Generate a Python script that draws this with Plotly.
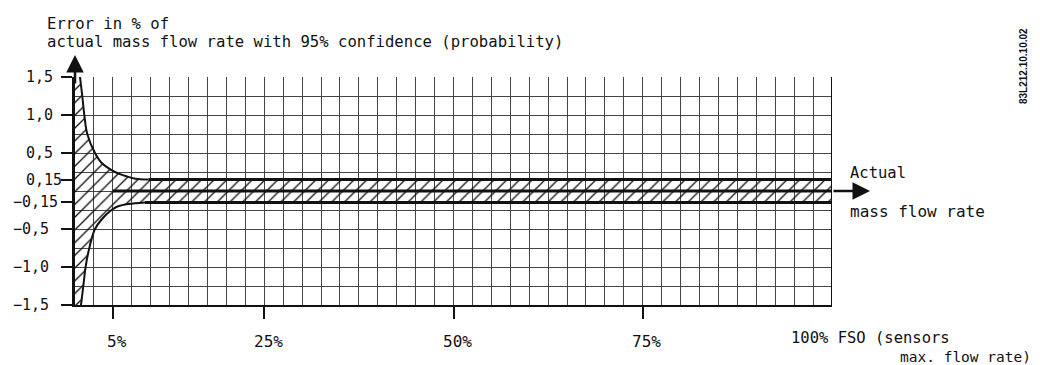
import plotly.graph_objects as go

# ---- data ----
x_tick_vals = [5, 25, 50, 75]
x_tick_text = ["5%", "25%", "50%", "75%"]
x_end_label = "100% FSO (sensors"
x_end_label2 = "max. flow rate)"

y_tick_vals = [1.5, 1.0, 0.5, 0.15, -0.15, -0.5, -1.0, -1.5]
y_tick_text = ["1,5", "1,0", "0,5", "0,15", "−0,15", "−0,5", "−1,0", "−1,5"]

upper_x = [0.66, 0.96, 1.23, 1.62, 2.64, 3.47, 5.28, 6.6, 7.97, 9.7]
upper_y = [1.5, 1.25, 1.0, 0.75, 0.5, 0.375, 0.25, 0.2, 0.16, 0.15]
lower_x = [0.79, 1.10, 1.40, 1.89, 2.64, 3.51, 4.83, 5.7, 7.04, 9.25]
lower_y = [-1.5, -1.25, -1.0, -0.75, -0.5, -0.375, -0.25, -0.2, -0.17, -0.15]

band_hi = 0.15
band_lo = -0.15
center_start = 5
x_max = 100

FONT = "DejaVu Sans Mono"
INK = "#111111"
GRID = "#444444"

W, H = 1040, 365
ML, MR, MT, MB = 75, 208, 77, 60
PW, PH = W - ML - MR, H - MT - MB


def px(xp):
    return (xp - ML) / PW


def py(yp):
    return (H - MB - yp) / PH


fig = go.Figure()

# hatched region (lower boundary, then upper with fill)
fig.add_trace(go.Scatter(
    x=[0] + lower_x + [x_max], y=[-1.5] + lower_y + [band_lo],
    mode="lines", line=dict(width=0, color="rgba(0,0,0,0)"),
    hoverinfo="skip", showlegend=False))
fig.add_trace(go.Scatter(
    x=[0] + upper_x + [x_max], y=[1.5] + upper_y + [band_hi],
    mode="lines", line=dict(width=0, color="rgba(0,0,0,0)"),
    fill="tonexty", fillcolor="rgba(0,0,0,0)",
    fillpattern=dict(shape="/", size=9, solidity=0.15,
                     fgcolor="#111111", bgcolor="rgba(0,0,0,0)",
                     fillmode="replace"),
    hoverinfo="skip", showlegend=False))

# curves
fig.add_trace(go.Scatter(x=upper_x, y=upper_y, mode="lines",
                         line=dict(color=INK, width=2, shape="spline"),
                         showlegend=False, hoverinfo="skip"))
fig.add_trace(go.Scatter(x=lower_x, y=lower_y, mode="lines",
                         line=dict(color=INK, width=2, shape="spline"),
                         showlegend=False, hoverinfo="skip"))
# thick band lines
fig.add_trace(go.Scatter(x=[upper_x[-1], x_max], y=[band_hi, band_hi], mode="lines",
                         line=dict(color=INK, width=3), showlegend=False, hoverinfo="skip"))
fig.add_trace(go.Scatter(x=[lower_x[-1], x_max], y=[band_lo, band_lo], mode="lines",
                         line=dict(color=INK, width=3), showlegend=False, hoverinfo="skip"))
fig.add_trace(go.Scatter(x=[center_start, x_max], y=[0, 0], mode="lines",
                         line=dict(color=INK, width=3), showlegend=False, hoverinfo="skip"))

fig.update_xaxes(
    range=[0, x_max], tickvals=x_tick_vals, ticks="outside", ticklen=12,
    tickwidth=2, tickcolor=INK, showticklabels=False,
    showgrid=True, gridcolor=GRID, gridwidth=1,
    minor=dict(dtick=2.5, tick0=0, showgrid=True, gridcolor=GRID, gridwidth=1, ticks=""),
    showline=True, linecolor=INK, linewidth=2, mirror=False, zeroline=False,
    fixedrange=True)
fig.update_yaxes(
    range=[-1.5, 1.5], tickvals=y_tick_vals, ticks="outside", ticklen=11,
    tickwidth=2, tickcolor=INK, showticklabels=False,
    showgrid=False,
    minor=dict(dtick=0.25, tick0=0, showgrid=True, gridcolor=GRID, gridwidth=1, ticks=""),
    showline=True, linecolor=INK, linewidth=2.5, mirror=False, zeroline=False,
    fixedrange=True)

ann = []
# y tick labels (aligned on the comma)
for v, t in zip(y_tick_vals, y_tick_text):
    neg = t.startswith("−")
    ann.append(dict(x=px(11 if neg else 24), y=v, xref="paper", yref="y",
                    text=t, showarrow=False, xanchor="left", yanchor="middle",
                    font=dict(family=FONT, size=15, color=INK)))
# x tick labels
for v, t in zip(x_tick_vals, x_tick_text):
    ann.append(dict(x=v, y=py(341), xref="x", yref="paper", xshift=4,
                    text=t, showarrow=False, xanchor="center", yanchor="middle",
                    font=dict(family=FONT, size=16, color=INK)))
ann.append(dict(x=px(789), y=py(338), xref="paper", yref="paper",
                text=x_end_label, showarrow=False, xanchor="left", yanchor="middle",
                font=dict(family=FONT, size=15.5, color=INK)))
ann.append(dict(x=px(898), y=py(356.5), xref="paper", yref="paper",
                text=x_end_label2, showarrow=False, xanchor="left", yanchor="middle",
                font=dict(family=FONT, size=14.5, color=INK)))
# y-axis title
ann.append(dict(x=px(45), y=py(24), xref="paper", yref="paper",
                text="Error in % of", showarrow=False, xanchor="left", yanchor="middle",
                font=dict(family=FONT, size=15.6, color=INK)))
ann.append(dict(x=px(45), y=py(42), xref="paper", yref="paper",
                text="actual mass flow rate with 95% confidence (probability)",
                showarrow=False, xanchor="left", yanchor="middle",
                font=dict(family=FONT, size=15.6, color=INK)))
# right label
ann.append(dict(x=px(848), y=py(173), xref="paper", yref="paper",
                text="Actual", showarrow=False, xanchor="left", yanchor="middle",
                font=dict(family=FONT, size=15.5, color=INK)))
ann.append(dict(x=px(848), y=py(211), xref="paper", yref="paper",
                text="mass flow rate", showarrow=False, xanchor="left", yanchor="middle",
                font=dict(family=FONT, size=16, color=INK)))
# drawing code
ann.append(dict(x=px(1024), y=py(66), xref="paper", yref="paper",
                text="<b>83L212.10.10.02</b>", showarrow=False, textangle=-90,
                xanchor="center", yanchor="middle",
                font=dict(family="Liberation Sans", size=10, color=INK)))
# axis arrows
ann.append(dict(x=0, y=py(55), xref="x", yref="paper", text="",
                showarrow=True, ax=0, ay=30, arrowhead=2, arrowsize=1.4,
                arrowwidth=2.5, arrowcolor=INK, standoff=0))
ann.append(dict(x=px(870), y=0, xref="paper", yref="y", text="",
                showarrow=True, ax=-38, ay=0, arrowhead=2, arrowsize=1.4,
                arrowwidth=2.5, arrowcolor=INK, standoff=0))

fig.update_layout(
    width=W, height=H, autosize=False,
    margin=dict(l=ML, r=MR, t=MT, b=MB, pad=0),
    paper_bgcolor="white", plot_bgcolor="white",
    showlegend=False, annotations=ann,
    font=dict(family=FONT, color=INK),
)
# right frame edge
fig.add_shape(type="line", xref="x", yref="y", x0=x_max, x1=x_max, y0=-1.5, y1=1.5,
              line=dict(color=INK, width=2))

fig.write_html("out.html", config={"displayModeBar": False},
               post_script="document.body.style.margin='0';document.body.style.overflow='hidden';")
